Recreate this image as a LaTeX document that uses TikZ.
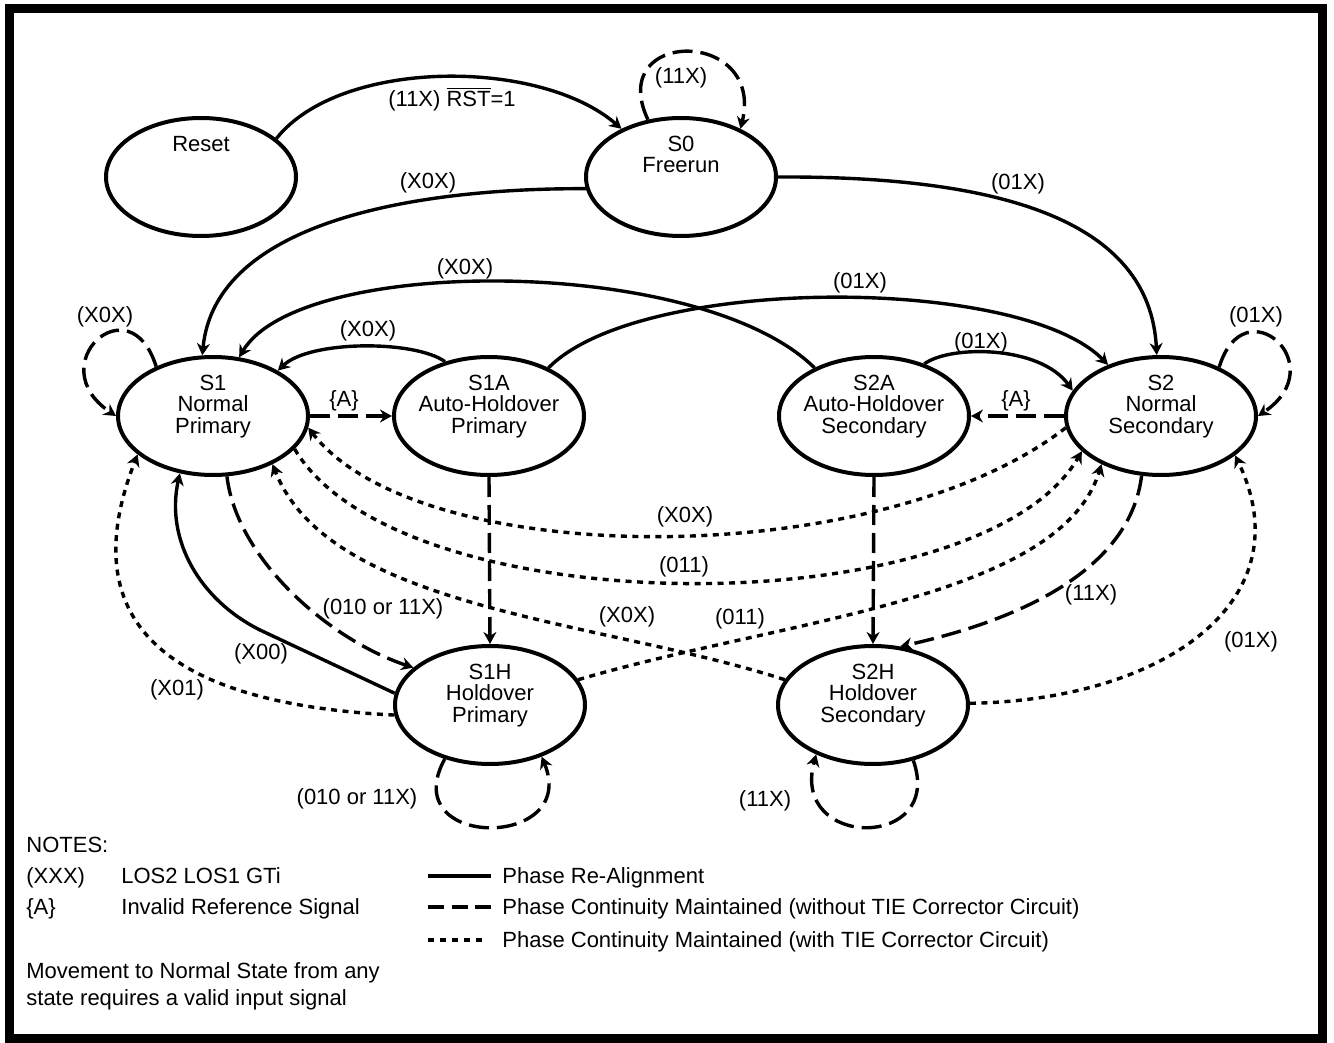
\documentclass[tikz,border=0pt]{standalone}
\usepackage{fontspec}
\setmainfont{Liberation Sans}
\usetikzlibrary{shapes.geometric,arrows.meta}
\tikzset{
  statebox/.style={ellipse, draw, line width=2pt, minimum width=95pt, minimum height=59pt, inner sep=0pt},
  statetxt/.style={anchor=north, align=center, inner sep=0pt},
  lbl/.style={anchor=base, inner sep=0pt},
  note/.style={anchor=base west, inner sep=0pt},
  realign/.style={line width=1.7pt, -{Stealth[length=6pt,width=6.5pt]}},
  nocorr/.style={realign, dash pattern=on 10pt off 4pt},
  withcorr/.style={realign, dash pattern=on 3pt off 2.75pt}
}
\begin{document}
\begin{tikzpicture}[x=0.5pt,y=-0.5pt,font=\fontsize{11}{10.6}\selectfont]
\useasboundingbox (0,0) rectangle (1334,1043);
\draw[line width=4.5pt] (9,8.5) rectangle (1322.5,1038);

% states
\node[statebox] (reset) at (201,177) {};
\node[statebox] (s0) at (681,177) {};
\node[statebox] (s1) at (213,416) {};
\node[statebox] (s1a) at (489,416) {};
\node[statebox] (s2a) at (874,416) {};
\node[statebox] (s2) at (1161,416) {};
\node[statebox] (s1h) at (490,705) {};
\node[statebox] (s2h) at (873,705) {};
\node[statetxt] (reset-t) at ([yshift=-10pt]reset.north) {Reset};
\node[statetxt] (s0-t) at ([yshift=-10pt]s0.north) {S0\\Freerun};
\node[statetxt] (s1-t) at ([yshift=-10pt]s1.north) {S1\\Normal\\Primary};
\node[statetxt] (s1a-t) at ([yshift=-10pt]s1a.north) {S1A\\Auto-Holdover\\Primary};
\node[statetxt] (s2a-t) at ([yshift=-10pt]s2a.north) {S2A\\Auto-Holdover\\Secondary};
\node[statetxt] (s2-t) at ([yshift=-10pt]s2.north) {S2\\Normal\\Secondary};
\node[statetxt] (s1h-t) at ([yshift=-10pt]s1h.north) {S1H\\Holdover\\Primary};
\node[statetxt] (s2h-t) at ([yshift=-10pt]s2h.north) {S2H\\Holdover\\Secondary};

% phase re-alignment
\draw[realign] (reset.27) .. controls (340,58) and (540,58) .. (s0.141);
\draw[realign] (s0.187) .. controls (420,188) and (215,220) .. (s1.100);
\draw[realign] (s0.east) .. controls (1000,176) and (1150,220) .. (s2.94);
\draw[realign] (s2a.141) .. controls (700,255) and (300,255) .. (s1.66);
\draw[realign] (s1a.39) .. controls (640,275) and (1020,275) .. (s2.136);
\draw[realign] (s1a.129) .. controls (415,340) and (310,340) .. (s1.35);
\draw[realign] (s2a.46) .. controls (950,345) and (1040,345) .. (s2.164);
\draw[realign] (s1h.173) -- (260,630) .. controls (200,600) and (165,540) .. (s1.240);

% without TIE corrector
\draw[nocorr] (s0.120) .. controls (605,28) and (765,28) .. (s0.39);
\draw[nocorr] (s1.139) .. controls (130,282) and (40,365) .. (s1.180);
\draw[nocorr] (s2.40) .. controls (1244,285) and (1334,365) .. (s2.0);
\draw[nocorr] (s1.east) -- (s1a.west);
\draw[nocorr] (s2.west) -- (s2a.east);
\draw[nocorr] (s1a.south) -- (s1h.north);
\draw[nocorr] (s2a.south) -- (s2h.north);
\draw[nocorr] (s1.283) .. controls (237,560) and (330,640) .. (s1h.154);
\draw[nocorr] (s2.252) .. controls (1130,570) and (1020,620) .. (s2h.65);
\draw[nocorr] (s1h.230) .. controls (395,850) and (580,850) .. (s1h.315);
\draw[nocorr] (s2h.306) .. controls (945,850) and (790,850) .. (s2h.221);

% with TIE corrector
\draw[withcorr] (s2.187) .. controls (880,572) and (420,572) .. (s1.353);
\draw[withcorr] (s1.338) .. controls (400,627) and (980,627) .. (s2.204);
\draw[withcorr] (s2h.164) .. controls (600,620) and (330,610) .. (s1.321);
\draw[withcorr] (s1h.16) .. controls (780,620) and (1060,600) .. (s2.219);
\draw[withcorr] (s1h.186) .. controls (195,705) and (65,640) .. (s1.207);
\draw[withcorr] (s2h.1) .. controls (1165,700) and (1305,600) .. (s2.332);

% labels
\node[lbl] (l-rst) at (452,107) {(11X) $\overline{\mbox{RST}}$=1};
\node[lbl] (l-s0) at (681,84) {(11X)};
\node[lbl] (l-s0s1) at (428,189) {(X0X)};
\node[lbl] (l-s0s2) at (1018,190) {(01X)};
\node[lbl] (l-s2as1) at (465,275) {(X0X)};
\node[lbl] (l-s1as2) at (860,289) {(01X)};
\node[lbl] (l-s1as1) at (368,336) {(X0X)};
\node[lbl] (l-s2as2) at (981,349) {(01X)};
\node[lbl] (l-s1) at (105,322) {(X0X)};
\node[lbl] (l-s2) at (1256,322) {(01X)};
\node[lbl] (l-a1) at (344,407) {\{A\}};
\node[lbl] (l-a2) at (1016,407) {\{A\}};
\node[lbl] (l-t1) at (685,522) {(X0X)};
\node[lbl] (l-t2) at (684,572) {(011)};
\node[lbl] (l-t3) at (627,622) {(X0X)};
\node[lbl] (l-t4) at (740,624) {(011)};
\node[lbl] (l-d8) at (383,614) {(010 or 11X)};
\node[lbl] (l-d9) at (1091,600) {(11X)};
\node[lbl] (l-e8) at (261,659) {(X00)};
\node[lbl] (l-t5) at (177,695) {(X01)};
\node[lbl] (l-t6) at (1251,647) {(01X)};
\node[lbl] (l-s1h) at (357,804) {(010 or 11X)};
\node[lbl] (l-s2h) at (765,806) {(11X)};

% notes
\node[note] (notes) at (26,852) {NOTES:};
\node[note] (n-xxx) at (26,883) {(XXX)};
\node[note] (n-xxx-t) at (121,883) {LOS2 LOS1 GTi};
\node[note] (n-a) at (26,914) {\{A\}};
\node[note] (n-a-t) at (121,914) {Invalid Reference Signal};
\node[note] (n-move1) at (26,978) {Movement to Normal State from any};
\node[note] (n-move2) at (26,1005) {state requires a valid input signal};
\draw[line width=1.7pt] (428,876) -- (491,876);
\draw[line width=1.7pt, dash pattern=on 8pt off 3.75pt] (428,907) -- (491,907);
\draw[line width=1.7pt, dash pattern=on 2.75pt off 3.25pt] (428,940) -- (486,940);
\node[note] (k-solid) at (502,883) {Phase Re-Alignment};
\node[note] (k-dash) at (502,914) {Phase Continuity Maintained (without TIE Corrector Circuit)};
\node[note] (k-dot) at (502,947) {Phase Continuity Maintained (with TIE Corrector Circuit)};
\end{tikzpicture}
\end{document}
